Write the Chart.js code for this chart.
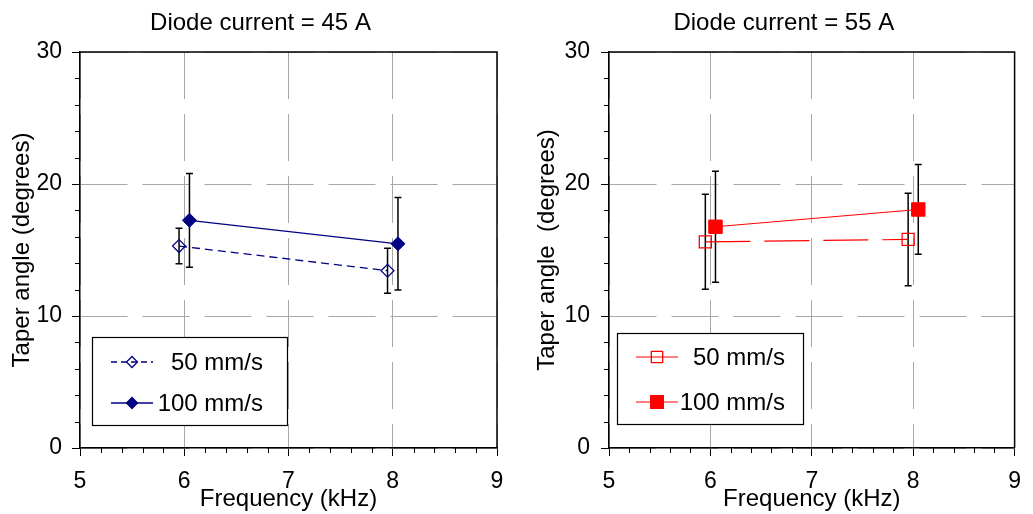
<!DOCTYPE html>
<html>
<head>
<meta charset="utf-8">
<script src="https://cdn.jsdelivr.net/npm/chart.js@4/dist/chart.umd.min.js"></script>
<style>
  body { margin: 0; background: #fff; }
  #wrap { position: relative; width: 1033px; height: 514px; }
  canvas { position: absolute; top: 0; }
</style>
</head>
<body>
<div id="wrap">
  <canvas id="left" width="520" height="514" style="left:0"></canvas>
  <canvas id="right" width="513" height="514" style="left:520px"></canvas>
</div>
<script>
// ---- data ----
const xTicks = [5, 6, 7, 8, 9];
const yTicks = [0, 10, 20, 30];
const seriesNames = ["50 mm/s", "100 mm/s"];

const freq50 = [5.95, 7.95];
const freq100 = [6.05, 8.05];

// Diode current = 45 A
const taper45_50 = [15.3, 13.43];
const err45_50 = [1.35, 1.7];
const taper45_100 = [17.25, 15.47];
const err45_100 = [3.55, 3.5];

// Diode current = 55 A
const taper55_50 = [15.62, 15.8];
const err55_50 = [3.6, 3.5];
const taper55_100 = [16.76, 18.07];
const err55_100 = [4.2, 3.4];

const FONT = "'Liberation Sans', Arial, sans-serif";
const TXT = 24;   // titles and legend
const TICK = 23;  // tick labels
Chart.defaults.font.family = FONT;
Chart.defaults.font.size = TICK;
Chart.defaults.color = "#000";

function pts(xs, ys) {
    return xs.map(function (x, i) { return { x: x, y: ys[i] }; });
}

// draw a marker by hand (used for the legend)
function marker(ctx, shape, x, y, r, color, filled) {
    ctx.save();
    ctx.beginPath();
    if (shape === "rectRot") {
        ctx.moveTo(x, y - r); ctx.lineTo(x + r, y); ctx.lineTo(x, y + r); ctx.lineTo(x - r, y);
    } else {
        const s = r * Math.SQRT1_2;
        ctx.rect(x - s, y - s, 2 * s, 2 * s);
    }
    ctx.closePath();
    ctx.setLineDash([]);
    ctx.lineWidth = 1.3;
    ctx.strokeStyle = color;
    if (filled) { ctx.fillStyle = color; ctx.fill(); }
    ctx.stroke();
    ctx.restore();
}

// error bars, frame, minor ticks, title and legend box
const extras = {
    id: "extras",
    beforeDatasetsDraw(chart) {
        const ctx = chart.ctx, xs = chart.scales.x, ys = chart.scales.y;
        ctx.save();
        ctx.strokeStyle = "#000";
        ctx.lineWidth = 1.5;
        chart.data.datasets.forEach(function (ds) {
            ds.data.forEach(function (p, j) {
                const x = xs.getPixelForValue(p.x);
                const t = ys.getPixelForValue(p.y + ds.errors[j]);
                const b = ys.getPixelForValue(p.y - ds.errors[j]);
                ctx.beginPath();
                ctx.moveTo(x, t); ctx.lineTo(x, b);
                ctx.moveTo(x - 3.5, t); ctx.lineTo(x + 3.5, t);
                ctx.moveTo(x - 3.5, b); ctx.lineTo(x + 3.5, b);
                ctx.stroke();
            });
        });
        ctx.restore();
    },
    afterDraw(chart, args, opts) {
        const ctx = chart.ctx, a = chart.chartArea;
        const xs = chart.scales.x, ys = chart.scales.y;
        ctx.save();
        // frame top / right
        ctx.strokeStyle = "#000";
        ctx.lineWidth = 1.5;
        ctx.beginPath();
        ctx.moveTo(a.left, a.top); ctx.lineTo(a.right, a.top); ctx.lineTo(a.right, a.bottom);
        ctx.stroke();
        // minor ticks
        ctx.lineWidth = 1;
        ctx.beginPath();
        for (let v = 2; v < 30; v += 2) {
            if (v % 10 === 0) continue;
            const y = Math.round(ys.getPixelForValue(v)) + 0.5;
            ctx.moveTo(a.left - 5, y); ctx.lineTo(a.left, y);
        }
        for (let k = 1; k < 20; k++) {
            if (k % 5 === 0) continue;
            const x = Math.round(xs.getPixelForValue(5 + k * 0.2)) + 0.5;
            ctx.moveTo(x, a.bottom); ctx.lineTo(x, a.bottom + 5);
        }
        ctx.stroke();
        // title
        ctx.fillStyle = "#000";
        ctx.font = TXT + "px " + FONT;
        ctx.textAlign = "center";
        ctx.textBaseline = "middle";
        ctx.fillText(opts.title, (a.left + a.right) / 2 - 28, 23);
        // legend
        const L = opts.legend;
        ctx.fillStyle = "#fff";
        ctx.fillRect(L.x, L.y, L.w, L.h);
        ctx.strokeStyle = "#000";
        ctx.lineWidth = 1.2;
        ctx.strokeRect(L.x + 0.5, L.y + 0.5, L.w, L.h);
        chart.data.datasets.forEach(function (ds, i) {
            const y = L.y + L.rows[i];
            ctx.save();
            ctx.strokeStyle = ds.borderColor;
            ctx.lineWidth = ds.borderWidth;
            ctx.setLineDash(ds.legendDash || []);
            ctx.beginPath();
            ctx.moveTo(L.x + 19, y); ctx.lineTo(L.x + 61, y);
            ctx.stroke();
            ctx.restore();
            marker(ctx, ds.pointStyle, L.x + 40, y, ds.legendRadius, ds.borderColor, ds.filled);
            ctx.fillStyle = "#000";
            ctx.textAlign = "right";
            ctx.fillText(ds.label, L.x + L.textRight, y + 1);
        });
        ctx.restore();
    }
};

function makeChart(id, title, yAxisWidth, padRight, yTitlePad, yTickPad, datasets, legend) {
    return new Chart(document.getElementById(id), {
        type: "scatter",
        data: { datasets: datasets },
        plugins: [extras],
        options: {
            responsive: false,
            animation: false,
            layout: { padding: { top: 52, right: padRight, bottom: 0, left: 0 } },
            scales: {
                x: {
                    type: "linear",
                    min: xTicks[0],
                    max: xTicks[xTicks.length - 1],
                    afterBuildTicks: function (s) { s.ticks = xTicks.map(function (v) { return { value: v }; }); },
                    afterFit: function (s) { s.height = 66; },
                    ticks: { padding: 12, color: "#000", font: { size: TICK } },
                    grid: { color: "#a8a8a8", lineWidth: 1, tickLength: 8, tickColor: "#000" },
                    border: { color: "#000", width: 1.5, dash: [47, 15] },
                    title: { display: true, text: "Frequency (kHz)", padding: 0, font: { size: TXT }, color: "#000" }
                },
                y: {
                    type: "linear",
                    min: yTicks[0],
                    max: yTicks[yTicks.length - 1],
                    afterBuildTicks: function (s) { s.ticks = yTicks.map(function (v) { return { value: v }; }); },
                    afterFit: function (s) { s.width = yAxisWidth; },
                    ticks: { padding: yTickPad, color: "#000", font: { size: TICK } },
                    grid: { color: "#a8a8a8", lineWidth: 1, tickLength: 8, tickColor: "#000" },
                    border: { color: "#000", width: 1.5, dash: [47, 15] },
                    title: { display: true, text: datasets.yTitle, padding: yTitlePad, font: { size: TXT }, color: "#000" }
                }
            },
            plugins: {
                legend: { display: false },
                tooltip: { enabled: false },
                extras: { title: title, legend: legend }
            }
        }
    });
}

const navy = "#000080";
const red = "#ff0000";

const leftSets = [
    {
        label: seriesNames[0], data: pts(freq50, taper45_50), errors: err45_50,
        showLine: true, borderColor: navy, borderWidth: 1.3, borderDash: [8, 5], legendDash: [6, 4],
        pointStyle: "rectRot", pointRadius: 6.5, pointBorderWidth: 1.2, pointBackgroundColor: "rgba(0,0,0,0)",
        pointBorderColor: navy, legendRadius: 5.5, filled: false
    },
    {
        label: seriesNames[1], data: pts(freq100, taper45_100), errors: err45_100,
        showLine: true, borderColor: navy, borderWidth: 1.3,
        pointStyle: "rectRot", pointRadius: 7, pointBorderWidth: 1, pointBackgroundColor: navy,
        pointBorderColor: navy, legendRadius: 5.5, filled: true
    }
];
leftSets.yTitle = "Taper angle (degrees)";

const rightSets = [
    {
        label: seriesNames[0], data: pts(freq50, taper55_50), errors: err55_50,
        showLine: true, borderColor: red, borderWidth: 1.2, borderDash: [45, 14],
        pointStyle: "rect", pointRadius: 8.5, pointBorderWidth: 1.3, pointBackgroundColor: "rgba(0,0,0,0)",
        pointBorderColor: red, legendRadius: 8, filled: false
    },
    {
        label: seriesNames[1], data: pts(freq100, taper55_100), errors: err55_100,
        showLine: true, borderColor: red, borderWidth: 1.2,
        pointStyle: "rect", pointRadius: 9.5, pointBorderWidth: 1, pointBackgroundColor: red,
        pointBorderColor: red, legendRadius: 9, filled: true
    }
];
rightSets.yTitle = "Taper angle  (degrees)";

makeChart("left", "Diode current = 45 A", 80, 23, 8, 10, leftSets,
    { x: 92, y: 337, w: 195, h: 88, rows: [25, 66], textRight: 171 });
makeChart("right", "Diode current = 55 A", 89, 8, 13, 11, rightSets,
    { x: 97, y: 333, w: 186, h: 91, rows: [24, 69], textRight: 168 });
</script>
</body>
</html>
